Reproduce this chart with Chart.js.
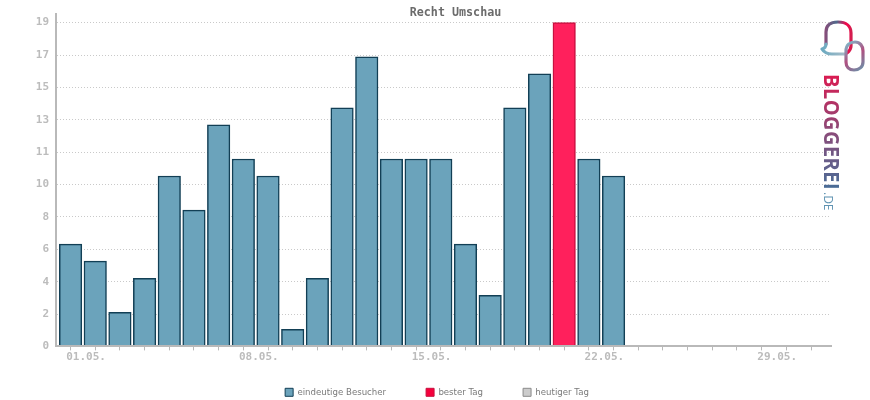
<!DOCTYPE html>
<html>
<head>
<meta charset="utf-8">
<style>
  html, body { margin: 0; padding: 0; background: #fff; }
  #wrap { width: 870px; height: 400px; }
</style>
</head>
<body>
<div id="wrap"><canvas id="chart" width="870" height="400"></canvas></div>
<script src="https://cdn.jsdelivr.net/npm/chart.js@4/dist/chart.umd.min.js"></script>
<script>
const days = ['01.05.', '02.05.', '03.05.', '04.05.', '05.05.', '06.05.', '07.05.', '08.05.', '09.05.', '10.05.', '11.05.', '12.05.', '13.05.', '14.05.', '15.05.', '16.05.', '17.05.', '18.05.', '19.05.', '20.05.', '21.05.', '22.05.', '23.05.', '24.05.', '25.05.', '26.05.', '27.05.', '28.05.', '29.05.', '30.05.', '31.05.'];
const visitors = [6, 5, 2, 4, 10, 8, 13, 11, 10, 1, 4, 14, 17, 11, 11, 11, 6, 3, 14, 16, null, 11, 10];
const bestDay = [null, null, null, null, null, null, null, null, null, null, null, null, null, null, null, null, null, null, null, null, 19];
const today = [];
const yTicks = [0, 1.9, 3.8, 5.7, 7.6, 9.5, 11.4, 13.3, 15.2, 17.1, 19];
const labelledDays = ['01.05.', '08.05.', '15.05.', '22.05.', '29.05.'];

const AXIS = '#b9b9b9';
const LABEL = '#bcbcbc';

function points(values) {
  return values.map((v, i) => ({ x: i + 1, y: v }));
}

function drawLogo(ctx) {
  ctx.save();
  ctx.lineCap = 'round';
  ctx.lineJoin = 'round';
  ctx.lineWidth = 3.2;

  // first bubble
  const arc = ctx.createLinearGradient(824, 30, 852, 30);
  arc.addColorStop(0, '#8c4a78');
  arc.addColorStop(0.45, '#4f6a8c');
  arc.addColorStop(0.8, '#f5054a');
  arc.addColorStop(1, '#d0204f');
  ctx.strokeStyle = arc;
  ctx.beginPath();
  ctx.moveTo(826, 44);
  ctx.lineTo(826, 32);
  ctx.bezierCurveTo(826, 25, 831, 22, 838, 22);
  ctx.bezierCurveTo(846, 22, 851, 26, 851, 33);
  ctx.lineTo(851, 46);
  ctx.quadraticCurveTo(851, 50, 847, 53);
  ctx.stroke();

  // tail and link
  const tail = ctx.createLinearGradient(821, 50, 846, 54);
  tail.addColorStop(0, '#69a9c0');
  tail.addColorStop(1, '#a9bcc8');
  ctx.strokeStyle = tail;
  ctx.beginPath();
  ctx.moveTo(826, 44);
  ctx.quadraticCurveTo(826, 48, 822, 49);
  ctx.quadraticCurveTo(825, 54, 832, 54);
  ctx.lineTo(845, 54);
  ctx.stroke();

  // second bubble
  const ring = ctx.createLinearGradient(846, 44, 864, 68);
  ring.addColorStop(0, '#7fb3c6');
  ring.addColorStop(0.5, '#b04f80');
  ring.addColorStop(1, '#6d8fa8');
  ctx.strokeStyle = ring;
  ctx.beginPath();
  ctx.moveTo(846, 51);
  ctx.bezierCurveTo(846, 45, 850, 42, 855, 42);
  ctx.bezierCurveTo(860, 42, 863, 46, 863, 51);
  ctx.lineTo(863, 62);
  ctx.bezierCurveTo(863, 67, 859, 70, 854, 70);
  ctx.bezierCurveTo(849, 70, 846, 67, 846, 62);
  ctx.closePath();
  ctx.stroke();

  // rotated wordmark
  ctx.translate(824, 74);
  ctx.rotate(Math.PI / 2);
  const word = ctx.createLinearGradient(0, 0, 116, 0);
  word.addColorStop(0, '#dc1a50');
  word.addColorStop(0.5, '#8c4a78');
  word.addColorStop(1, '#4a6c96');
  ctx.fillStyle = word;
  ctx.textAlign = 'left';
  ctx.textBaseline = 'alphabetic';
  ctx.font = 'bold 20.5px "Open Sans"';
  ctx.letterSpacing = '0.5px';
  ctx.fillText('BLOGGEREI', 0, 0, 116);
  ctx.letterSpacing = '0px';
  ctx.fillStyle = '#5f93b2';
  ctx.font = '12px "Open Sans"';
  ctx.fillText('.DE', 118, 0, 20);
  ctx.restore();
}

const layoutTweaks = {
  id: 'layoutTweaks',
  afterLayout(chart) {
    // title sits over the plot, legend sits low under it
    chart.titleBlock.left += 38;
    chart.titleBlock.right += 38;
    chart.legend.left += 19.5;
    chart.legend.right += 19.5;
    chart.legend.top = 348;
  },
  afterDraw(chart) {
    drawLogo(chart.ctx);
  },
};

new Chart(document.getElementById('chart'), {
  type: 'bar',
  data: {
    datasets: [
      { label: 'eindeutige Besucher', data: points(visitors), backgroundColor: '#6ba3bb', borderColor: '#123f55', borderWidth: 1.5 },
      { label: 'bester Tag', data: points(bestDay), backgroundColor: '#ff205c', borderColor: '#c8103f', borderWidth: 1.5 },
      { label: 'heutiger Tag', data: points(today), backgroundColor: '#cccccc', borderColor: '#8a8a8a', borderWidth: 1.5 },
    ],
  },
  plugins: [layoutTweaks],
  options: {
    responsive: false,
    animation: false,
    layout: { padding: { left: 4, right: 39, top: 0, bottom: -29 } },
    datasets: { bar: { grouped: false, barThickness: 22.5 } },
    plugins: {
      tooltip: { enabled: false },
      title: {
        display: true,
        text: 'Recht Umschau',
        color: '#6b6b6b',
        font: { family: '"DejaVu Sans Mono"', size: 11.7, weight: 'bold' },
        padding: { top: 3, bottom: -6.5 },
      },
      legend: {
        position: 'bottom',
        labels: {
          boxWidth: 8,
          boxHeight: 8,
          padding: 40,
          color: '#7a7a7a',
          font: { family: '"DejaVu Sans"', size: 8.6 },
          generateLabels(chart) {
            return chart.data.datasets.map((ds, i) => ({
              text: ds.label,
              fillStyle: i === 1 ? '#f5003c' : ds.backgroundColor,
              strokeStyle: ds.borderColor,
              lineWidth: 1,
              fontColor: '#7a7a7a',
              datasetIndex: i,
            }));
          },
        },
      },
    },
    scales: {
      x: {
        type: 'linear',
        offset: false,
        min: 0.41,
        max: 31.81,
        afterBuildTicks(axis) {
          axis.ticks = days.map((d, i) => ({ value: i + 1 }));
        },
        afterFit(axis) {
          axis.height = 24;
        },
        border: { color: AXIS, width: 2, z: 1 },
        grid: { offset: false, drawOnChartArea: false, color: AXIS, tickLength: 4 },
        ticks: {
          autoSkip: false,
          maxRotation: 0,
          labelOffset: 15.5,
          padding: 0,
          color: LABEL,
          font: { family: '"DejaVu Sans Mono"', size: 11, weight: 'bold' },
          callback(value) {
            const label = days[value - 1];
            return labelledDays.includes(label) ? label : '';
          },
        },
      },
      y: {
        min: 0,
        max: 19.53,
        afterBuildTicks(axis) {
          axis.ticks = yTicks.map(v => ({ value: v }));
        },
        afterFit(axis) {
          axis.width = 52;
        },
        border: { color: AXIS, width: 2, dash: [1, 2] },
        grid: { color: '#c9c9c9', lineWidth: 1, tickLength: 0 },
        ticks: {
          padding: 7,
          color: LABEL,
          font: { family: '"DejaVu Sans Mono"', size: 11, weight: 'bold' },
          callback(value) {
            return String(Math.round(value));
          },
        },
      },
    },
  },
});
</script>
</body>
</html>
